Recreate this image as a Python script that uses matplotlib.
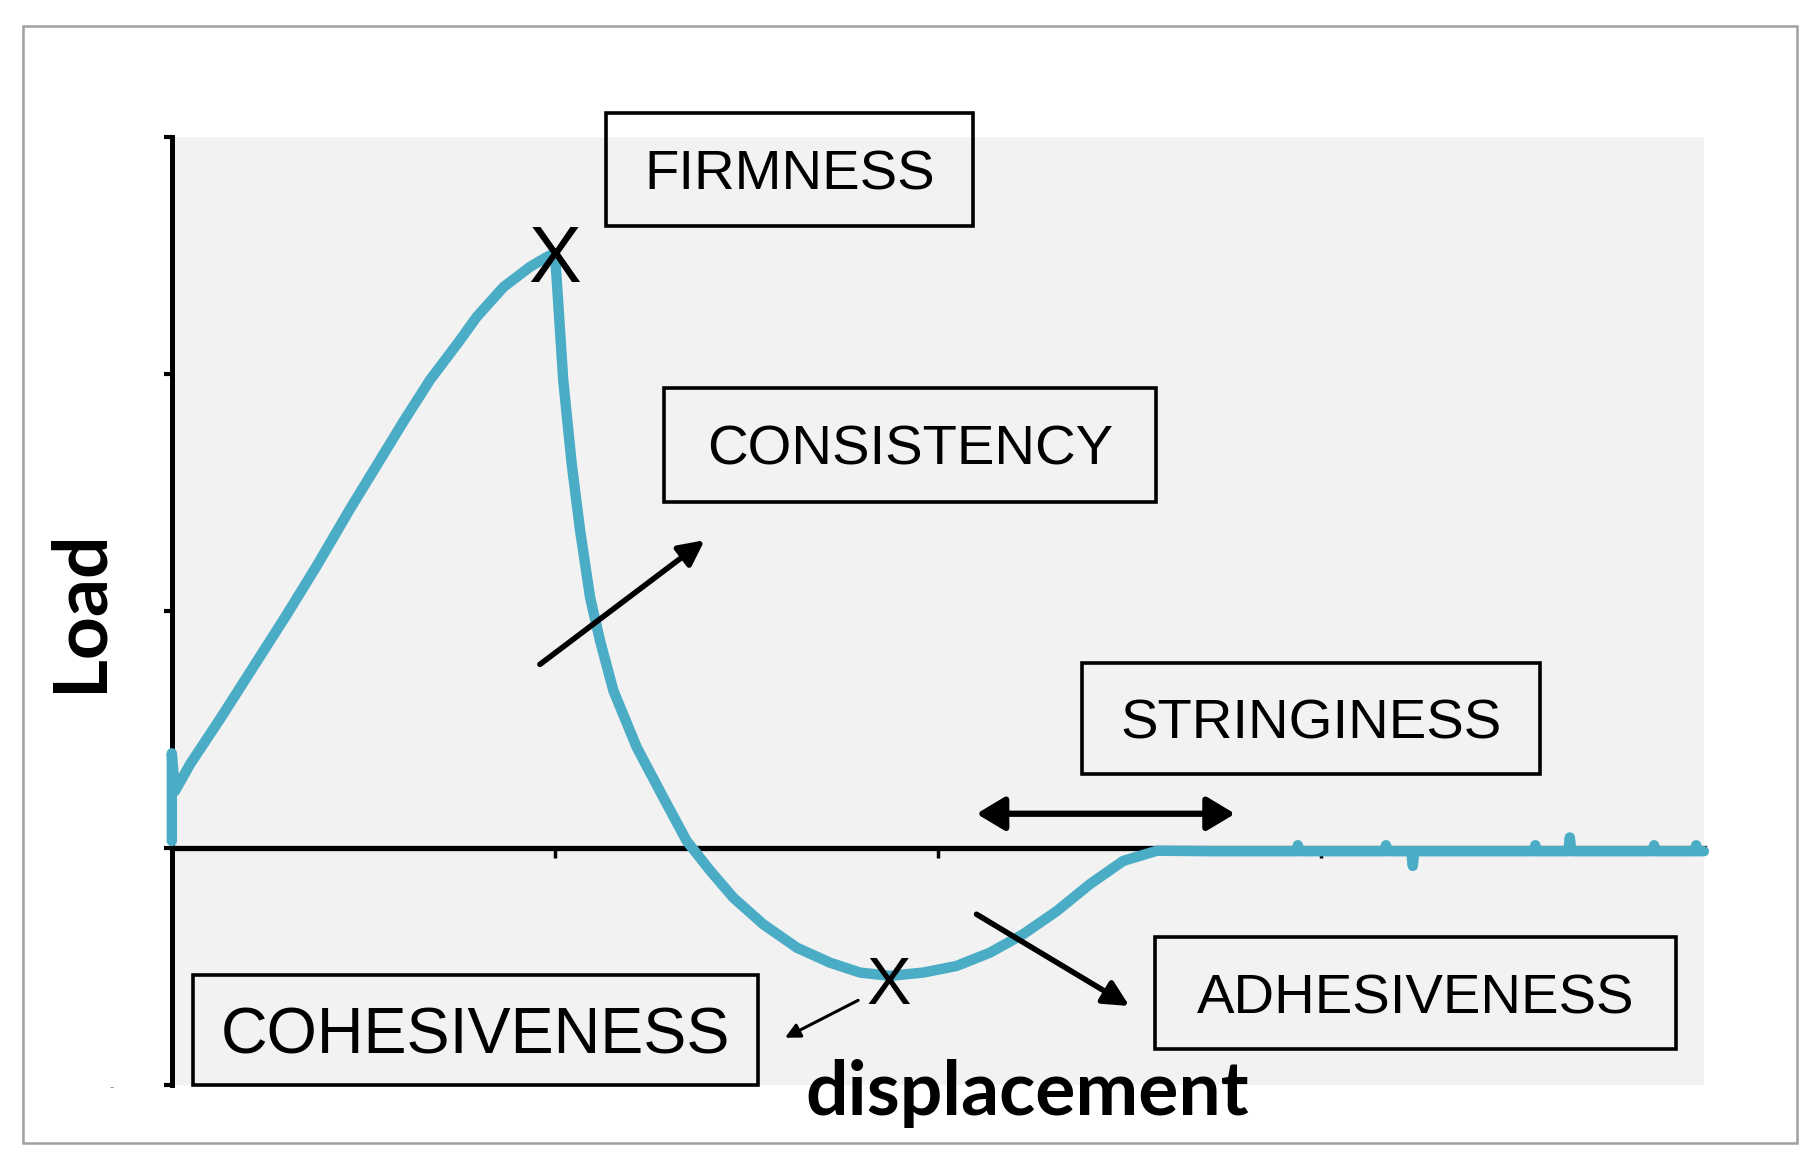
import matplotlib
matplotlib.use('Agg')
import matplotlib.pyplot as plt
import matplotlib.patches as patches

# load-displacement curve (arbitrary units)
disp = [0.0, 0.0, 0.008, 0.048, 0.126, 0.213, 0.30, 0.378, 0.465,
        0.535, 0.605, 0.674, 0.752, 0.796, 0.866, 0.935, 0.975, 1.0,
        1.005, 1.022, 1.044, 1.066, 1.092, 1.118, 1.153, 1.214, 1.283,
        1.344, 1.405, 1.466, 1.544, 1.632, 1.718, 1.797, 1.875, 1.962,
        2.049, 2.136, 2.223, 2.311, 2.397, 2.484, 2.572, 2.711,
        2.936, 2.94, 2.944, 3.166, 3.17, 3.174, 3.236, 3.24, 3.244,
        3.556, 3.56, 3.564, 3.646, 3.65, 3.654, 3.866, 3.87, 3.874,
        3.976, 3.98, 3.984, 4.0]
load = [0.03, 0.40, 0.24, 0.355, 0.545, 0.765, 0.985, 1.19, 1.43,
        1.615, 1.80, 1.975, 2.142, 2.241, 2.367, 2.452, 2.49, 2.51,
        2.396, 1.973, 1.622, 1.340, 1.058, 0.875, 0.664, 0.425, 0.214,
        0.031, -0.094, -0.209, -0.321, -0.420, -0.483, -0.525, -0.539, -0.525,
        -0.497, -0.441, -0.363, -0.265, -0.152, -0.054, -0.011, -0.013,
        -0.013, 0.012, -0.013, -0.013, 0.012, -0.013, -0.013, -0.075, -0.013,
        -0.013, 0.012, -0.013, -0.013, 0.045, -0.013, -0.013, 0.012, -0.013,
        -0.013, 0.012, -0.013, -0.013]

# marked points (X) on the curve
firm_pt = (1.0, 2.509)
cohes_pt = (1.871, -0.557)

# annotation boxes: label, (x0, x1, y0, y1), fontsize
labels = ['FIRMNESS', 'CONSISTENCY', 'STRINGINESS', 'ADHESIVENESS', 'COHESIVENESS']
boxes = [(1.133, 2.091, 2.623, 3.103),
         (1.285, 2.570, 1.461, 1.941),
         (2.376, 3.573, 0.314, 0.779),
         (2.567, 3.927, -0.848, -0.377),
         (0.0545, 1.530, -1.0, -0.534)]
label_size = [40.5, 40.5, 40.5, 40.5, 46.5]

fig = plt.figure(figsize=(18.2, 11.71), dpi=100)
fig.patches.append(patches.Rectangle((0.0128, 0.0238), 0.9744, 0.9544,
                                     transform=fig.transFigure, fill=False,
                                     edgecolor='#a0a0a0', lw=1.8))

ax = fig.add_axes([0.0944, 0.0733, 0.8418, 0.8097])
ax.set_facecolor('#f2f2f2')
ax.set_xlim(0, 4)
ax.set_ylim(-1, 3)
for s in ['top', 'right']:
    ax.spines[s].set_visible(False)
ax.spines['bottom'].set_position(('data', 0))
ax.spines['left'].set_linewidth(3.6)
ax.spines['bottom'].set_linewidth(3.8)
ax.set_xticks([1, 2, 3])
ax.set_yticks([-1, 0, 1, 2, 3])
ax.set_xticklabels([])
ax.set_yticklabels([])
ax.tick_params(axis='x', direction='out', length=7, width=2.5)
ax.tick_params(axis='y', direction='out', length=6, width=3)

ax.plot(disp, load, color='#4BACC6', lw=7.5, zorder=3, clip_on=False,
        solid_joinstyle='round', solid_capstyle='round')

narrow = ['Liberation Sans Narrow', 'Liberation Sans', 'DejaVu Sans']
ax.text(firm_pt[0], firm_pt[1], 'X', fontsize=57, family=narrow,
        ha='center', va='center_baseline', zorder=6)
ax.text(cohes_pt[0], cohes_pt[1], 'X', fontsize=48, family=narrow,
        ha='center', va='center_baseline', zorder=6)

for lab, (x0, x1, y0, y1), fs in zip(labels, boxes, label_size):
    ax.add_patch(patches.Rectangle((x0, y0), x1 - x0, y1 - y0, fill=False,
                                   edgecolor='k', lw=2.6, zorder=4, clip_on=False))
    ax.text((x0 + x1) / 2, (y0 + y1) / 2, lab, fontsize=fs,
            family=['Liberation Sans', 'DejaVu Sans'],
            ha='center', va='center_baseline', zorder=5)

# arrows
arr = dict(shrinkA=0, shrinkB=0, color='k')
ax.annotate('', xy=(1.391, 1.299), xytext=(0.961, 0.775), zorder=5,
            arrowprops=dict(arrowstyle='-|>', lw=4, mutation_scale=38, **arr))
ax.annotate('', xy=(2.776, 0.145), xytext=(2.101, 0.145), zorder=5,
            arrowprops=dict(arrowstyle='<|-|>,head_length=0.5,head_width=0.3',
                            lw=4.5, mutation_scale=34, **arr))
ax.annotate('', xy=(2.5, -0.666), xytext=(2.101, -0.279), zorder=5,
            arrowprops=dict(arrowstyle='-|>', lw=4, mutation_scale=38, **arr))
ax.annotate('', xy=(1.601, -0.80), xytext=(1.792, -0.642), zorder=5,
            arrowprops=dict(arrowstyle='-|>', lw=2.2, mutation_scale=22, **arr))

fig.text(0.0555, 0.4782, 'Load', rotation=90, rotation_mode='anchor',
         ha='center', va='baseline', fontsize=54, fontweight='bold',
         family=['Lato', 'DejaVu Sans'])
fig.text(0.5643, 0.0478, 'displacement', ha='center', va='baseline',
         fontsize=54, fontweight='bold', family=['Lato', 'DejaVu Sans'])
fig.text(0.0615, 0.0717, '-', fontsize=9, color='#999999', ha='center', va='center')

fig.savefig('out.png', dpi=100)
